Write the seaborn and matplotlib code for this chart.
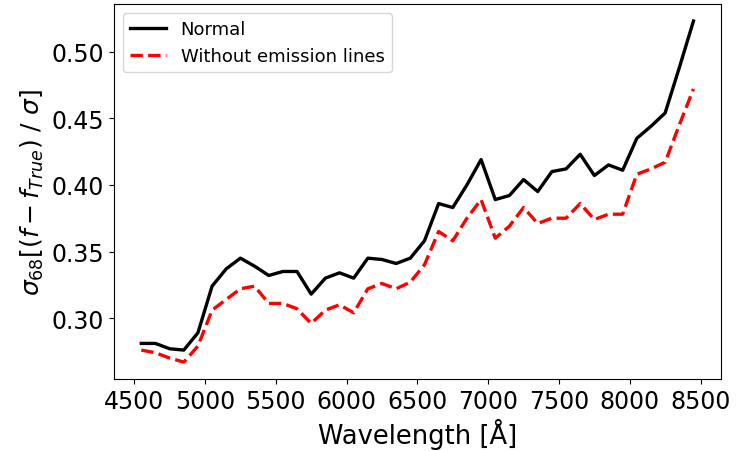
import numpy as np
import pandas as pd
import matplotlib
matplotlib.use("Agg")
import matplotlib.pyplot as plt
import seaborn as sns

# wavelength bins (Angstrom)
wavelength = [4550, 4650, 4750, 4850, 4950, 5050, 5150, 5250, 5350, 5450,
              5550, 5650, 5750, 5850, 5950, 6050, 6150, 6250, 6350, 6450,
              6550, 6650, 6750, 6850, 6950, 7050, 7150, 7250, 7350, 7450,
              7550, 7650, 7750, 7850, 7950, 8050, 8150, 8250, 8350, 8450]

normal = [0.281, 0.281, 0.277, 0.276, 0.289, 0.324, 0.337, 0.345, 0.339, 0.332,
          0.335, 0.335, 0.318, 0.330, 0.334, 0.330, 0.345, 0.344, 0.341, 0.345,
          0.358, 0.386, 0.383, 0.400, 0.419, 0.389, 0.392, 0.404, 0.395, 0.410,
          0.412, 0.423, 0.407, 0.415, 0.411, 0.435, 0.444, 0.454, 0.488, 0.523]

no_lines = [0.276, 0.274, 0.270, 0.267, 0.279, 0.306, 0.314, 0.322, 0.324, 0.311,
            0.311, 0.307, 0.296, 0.306, 0.310, 0.304, 0.322, 0.326, 0.322, 0.327,
            0.340, 0.365, 0.358, 0.375, 0.389, 0.360, 0.369, 0.383, 0.371, 0.375,
            0.375, 0.386, 0.374, 0.378, 0.378, 0.408, 0.412, 0.417, 0.445, 0.472]

labels = ["Normal", "Without emission lines"]

df = pd.concat([
    pd.DataFrame({"wl": wavelength, "sig": normal, "kind": labels[0]}),
    pd.DataFrame({"wl": wavelength, "sig": no_lines, "kind": labels[1]}),
])

fig = plt.figure(figsize=(7.48, 4.52), dpi=100)
ax = fig.add_axes([0.152, 0.159, 0.812, 0.830])

sns.lineplot(data=df[df["kind"] == labels[0]], x="wl", y="sig",
             color="black", lw=2.4, label=labels[0], ax=ax)
sns.lineplot(data=df[df["kind"] == labels[1]], x="wl", y="sig",
             color="red", lw=2.4, ls="--", label=labels[1], ax=ax)

ax.set_xticks(np.arange(4500, 8501, 500))
ax.set_yticks([0.30, 0.35, 0.40, 0.45, 0.50])
ax.tick_params(labelsize=17)
ax.set_xlabel("Wavelength [Å]", fontsize=18.5)
ax.set_ylabel(r"$\sigma_{68}[(f - f_{True})\ /\ \sigma]$", fontsize=18)
ax.legend(loc="upper left", fontsize=13)

plt.savefig("out.png", dpi=100)
